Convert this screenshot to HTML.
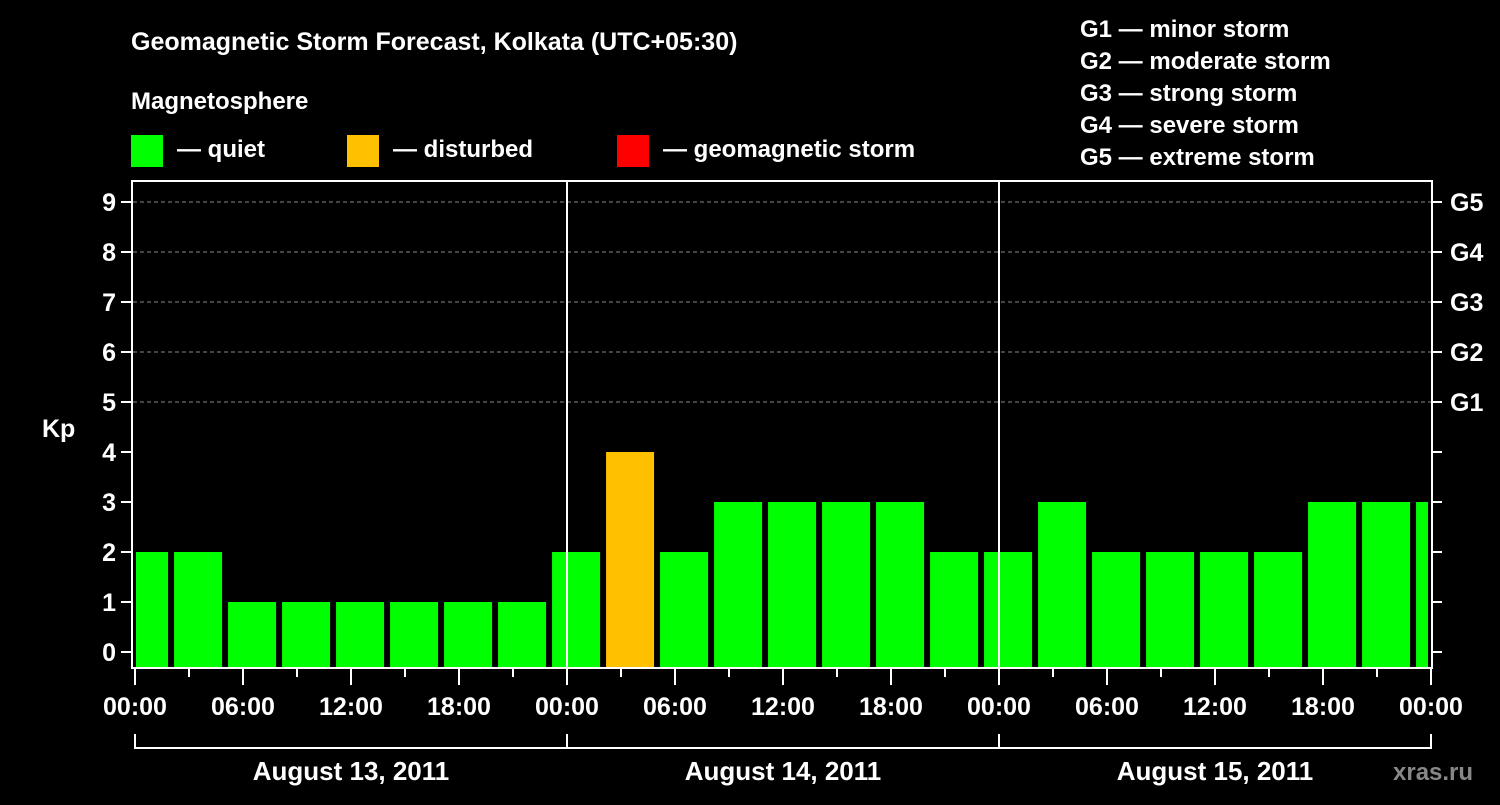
<!DOCTYPE html>
<html><head><meta charset="utf-8"><style>
body{margin:0;background:#000;}
svg text{font-family:"Liberation Sans",Arial,sans-serif;font-weight:bold;fill:#fff;}
</style></head><body>
<svg id="c" width="1500" height="800" xmlns="http://www.w3.org/2000/svg">
<rect width="1500" height="800" fill="#000"/>
<text x="131" y="50" font-size="25">Geomagnetic Storm Forecast, Kolkata (UTC+05:30)</text>
<text x="131" y="109" font-size="24">Magnetosphere</text>
<rect x="131" y="135" width="32" height="32" fill="#00ff00"/>
<text x="177" y="157" font-size="24">— quiet</text>
<rect x="347" y="135" width="32" height="32" fill="#ffc000"/>
<text x="393" y="157" font-size="24">— disturbed</text>
<rect x="617" y="135" width="32" height="32" fill="#ff0000"/>
<text x="663" y="157" font-size="24">— geomagnetic storm</text>
<g font-size="24">
<text x="1080" y="37">G1 — minor storm</text>
<text x="1080" y="69">G2 — moderate storm</text>
<text x="1080" y="101">G3 — strong storm</text>
<text x="1080" y="133">G4 — severe storm</text>
<text x="1080" y="165">G5 — extreme storm</text>
</g>
<text x="42" y="437" font-size="25">Kp</text>
<text x="1393" y="780" font-size="24" style="fill:#888">xras.ru</text>
<defs><clipPath id="pc"><rect x="136" y="180" width="1292" height="490"/></clipPath></defs>
<g id="grid"></g><g id="bars" clip-path="url(#pc)"></g><g id="axes"></g>
</svg>
<script>
const kpValues=[2,2,1,1,1,1,1,1,2,4,2,3,3,3,3,2,2,3,2,2,2,2,3,3,3];
const barStartHours=[-0.83,2.17,5.17,8.17,11.17,14.17,17.17,20.17,23.17,26.17,29.17,32.17,35.17,38.17,41.17,44.17,47.17,50.17,53.17,56.17,59.17,62.17,65.17,68.17,71.17];
const yTicks=[0,1,2,3,4,5,6,7,8,9];
const gLabels=["","","","","","G1","G2","G3","G4","G5"];
const xTickLabels=["00:00","06:00","12:00","18:00","00:00","06:00","12:00","18:00","00:00","06:00","12:00","18:00","00:00"];
const dayLabels=["August 13, 2011","August 14, 2011","August 15, 2011"];
const NS="http://www.w3.org/2000/svg";
const X=h=>135+h*18, Y=v=>652-v*50;
function mk(tag,attrs,parent,txt){const e=document.createElementNS(NS,tag);for(const k in attrs)e.setAttribute(k,attrs[k]);if(txt!==undefined)e.textContent=txt;document.getElementById(parent).appendChild(e);return e;}
yTicks.forEach((v,i)=>{
 if(v>=5){const l=mk('line',{x1:133,x2:1432,y1:Y(v),y2:Y(v),stroke:'#888','stroke-dasharray':'4,3','stroke-width':1},'grid');
 
 }
 const t1=mk('line',{x1:121,x2:132,y1:Y(v),y2:Y(v),stroke:'#fff','stroke-width':2},'axes');
 
 
 const t2=mk('line',{x1:1432,x2:1442,y1:Y(v),y2:Y(v),stroke:'#fff','stroke-width':2},'axes');
 
 
 const tl=mk('text',{x:116,y:Y(v)+9,'text-anchor':'end','font-size':25},'axes',String(v));
 
 
 if(gLabels[i]){const g=mk('text',{x:1450,y:Y(v)+9,'font-size':25},'axes',gLabels[i]);
 
 }
});
kpValues.forEach((v,i)=>{
 const x=X(barStartHours[i]);
 const r=mk('rect',{x:x,y:Y(v),width:48,height:668-Y(v),fill:v>=5?'#ff0000':(v>=4?'#ffc000':'#00ff00')},'bars');
 
 
});
[24,48].forEach(h=>{const l=mk('line',{x1:X(h),x2:X(h),y1:181,y2:668,stroke:'#fff','stroke-width':2},'axes');
 
 });
const fr=mk('rect',{x:132,y:181,width:1300,height:487,fill:'none',stroke:'#fff','stroke-width':2},'axes');


for(let h=0;h<=72;h+=3){const maj=h%6===0;
 const t=mk('line',{x1:X(h),x2:X(h),y1:668,y2:maj?685:677,stroke:'#fff','stroke-width':2},'axes');
 
 }
xTickLabels.forEach((s,i)=>{const t=mk('text',{x:X(i*6),y:715,'text-anchor':'middle','font-size':25},'axes',s);
 
 });
const br=mk('path',{d:`M${X(0)} 734V748H${X(72)}V734M${X(24)} 734V748M${X(48)} 734V748`,stroke:'#fff','stroke-width':2,fill:'none'},'axes');


dayLabels.forEach((s,i)=>{const t=mk('text',{x:X(i*24+12),y:780,'text-anchor':'middle','font-size':26},'axes',s);
 
 });
</script>
</body></html>
